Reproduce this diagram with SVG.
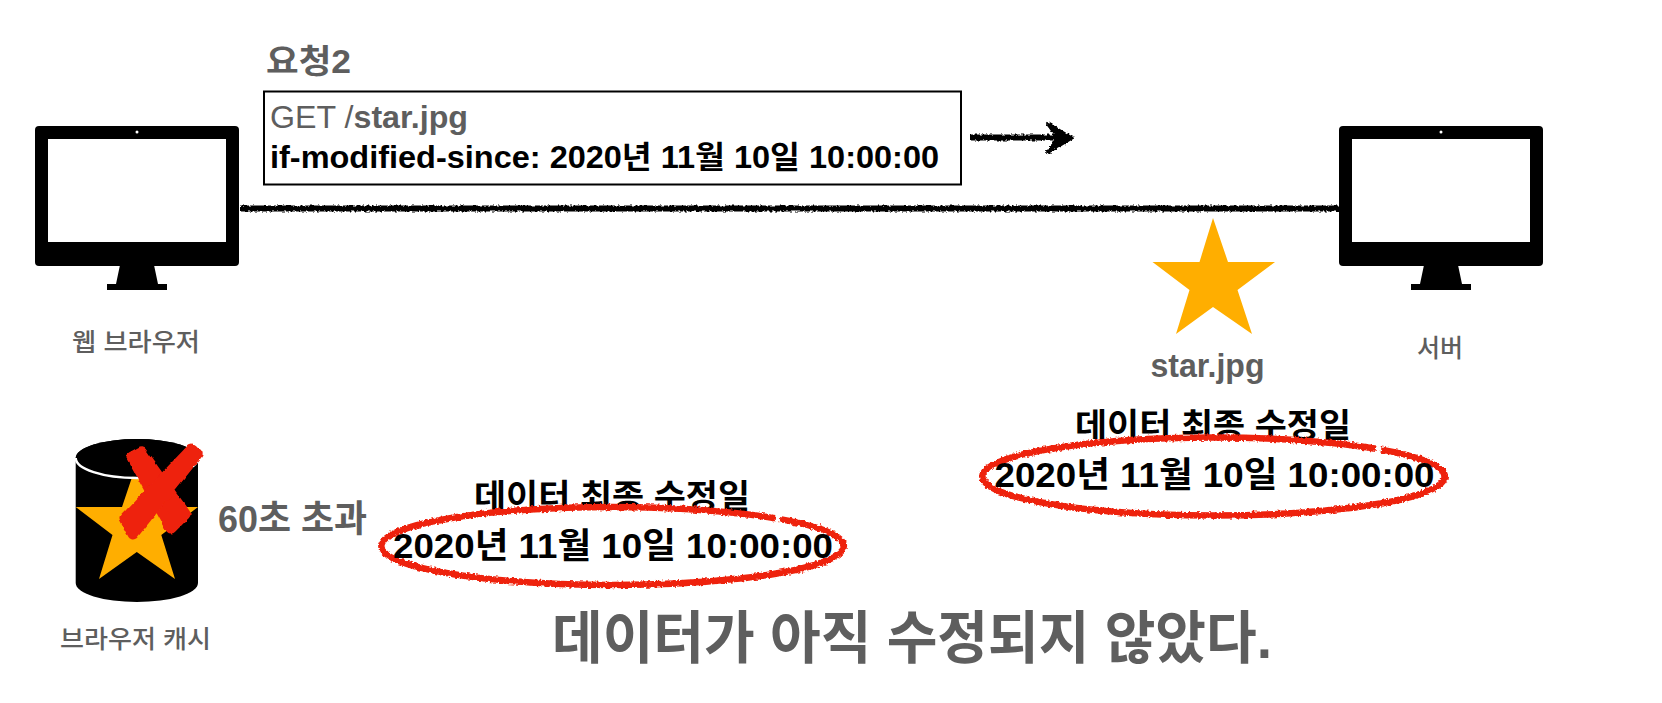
<svg xmlns="http://www.w3.org/2000/svg" width="1662" height="703" viewBox="0 0 1662 703">
<style>
text{font-family:"Liberation Sans","Noto Sans CJK KR",sans-serif;}
.g{fill:#5e5e5e}.k{fill:#000}.b{font-weight:700}.m{font-weight:500}
.sk{fill:none;stroke:#000;stroke-width:6;filter:url(#rough)}
.ringfill{fill:#fff}
.ring{fill:none;stroke:#ee220c;stroke-width:6.500;filter:url(#rough)}
.x{fill:#ee220c;stroke:#ee220c;stroke-width:11;stroke-linejoin:round;filter:url(#roughx)}
.star{fill:#ffae00}
</style>
<defs>
<filter id="rough" x="0" y="0" width="1662" height="703" filterUnits="userSpaceOnUse"><feTurbulence type="fractalNoise" baseFrequency="0.4" numOctaves="2" seed="3"/><feDisplacementMap in="SourceGraphic" scale="4" xChannelSelector="R" yChannelSelector="G"/></filter>
<filter id="roughx" x="0" y="0" width="1662" height="703" filterUnits="userSpaceOnUse"><feTurbulence type="fractalNoise" baseFrequency="0.12" numOctaves="2" seed="5"/><feDisplacementMap in="SourceGraphic" scale="4" xChannelSelector="R" yChannelSelector="G"/></filter>
<g id="monitor">
<rect x="0" y="0" width="204" height="140" rx="4" fill="#000"/>
<rect x="13" y="13" width="178" height="103" fill="#fff"/>
<circle cx="102" cy="6" r="1.500" fill="#fff"/>
<path d="M85 139H119L123 158H132V164H72V158H81Z" fill="#000"/>
</g>
</defs>
<rect width="1662" height="703" fill="#fff"/>

<g id="connectors">
<path class="sk" d="M240 208.500H1341"/>
<path class="sk" d="M970 137.500H1058"/>
<path d="M1047 123L1072 138L1047 153L1058 138Z" fill="#000" stroke="#000" stroke-width="3" filter="url(#rough)"/>
</g>

<g id="request">
<text class="g b" x="266" y="73" font-size="33" textLength="85" lengthAdjust="spacingAndGlyphs">요청2</text>
<rect x="264" y="91.500" width="697" height="93" fill="#fff" stroke="#000" stroke-width="2"/>
<text class="g" x="270" y="128" font-size="32" textLength="198" lengthAdjust="spacingAndGlyphs">GET /<tspan class="b">star.jpg</tspan></text>
<text class="k b" x="270" y="168" font-size="31" textLength="669" lengthAdjust="spacingAndGlyphs">if-modified-since: 2020년 11월 10일 10:00:00</text>
</g>

<g id="browser">
<use href="#monitor" x="35" y="126"/>
<text class="g m" x="72" y="351" font-size="25" textLength="128" lengthAdjust="spacingAndGlyphs">웹 브라우저</text>
</g>

<g id="server">
<use href="#monitor" x="1339" y="126"/>
<text class="g m" x="1417" y="357" font-size="25" textLength="46" lengthAdjust="spacingAndGlyphs">서버</text>
</g>

<g id="star-file">
<path class="star" d="M1213 218L1228 262H1275L1237.500 290L1252 334L1213 307L1176 334L1189.500 290L1152.500 262H1199.500Z"/>
<text class="g b" x="1150.500" y="377" font-size="33" textLength="114" lengthAdjust="spacingAndGlyphs">star.jpg</text>
</g>

<g id="server-date">
<text class="k b" x="1075" y="437" font-size="33" textLength="276" lengthAdjust="spacingAndGlyphs">데이터 최종 수정일</text>
<ellipse class="ringfill" cx="1213.500" cy="476.500" rx="231" ry="39"/>
<path class="ring" d="M1381 449.600A231 39 0 0 1 1213.500 515.500A231 39 0 1 1 1376 448.800"/>
<text class="k b" x="994.500" y="487" font-size="35" textLength="440" lengthAdjust="spacingAndGlyphs">2020년 11월 10일 10:00:00</text>
</g>

<g id="cache">
<path d="M75.700 458A61 19 0 0 1 198 458V583A61 19 0 0 1 75.700 583Z" fill="#000"/>
<path class="star" d="M136.800 463L151.800 507H198L161.300 535L175 579L136.800 552L99 579L112.500 535L75.700 507H122Z"/>
<path d="M75.700 458A61 19 0 0 1 198 458A61 19 0 0 1 75.700 458Z" fill="#000"/>
<path d="M75.700 458A61 20 0 0 0 198 458" fill="none" stroke="#fff" stroke-width="2.500"/>
<path class="x" d="M132 457L141 452L185 514L171 528Z"/>
<path class="x" d="M197 454L192 449L125 519L133 534Z"/>
<text class="g m" x="60" y="648" font-size="25" textLength="151" lengthAdjust="spacingAndGlyphs">브라우저 캐시</text>
</g>

<g id="cache-note"><text class="g b" x="218" y="532" font-size="37" textLength="149" lengthAdjust="spacingAndGlyphs">60초 초과</text></g>

<g id="cache-date">
<text class="k b" x="474" y="508" font-size="33" textLength="276" lengthAdjust="spacingAndGlyphs">데이터 최종 수정일</text>
<ellipse class="ringfill" cx="612.500" cy="546" rx="231" ry="39"/>
<path class="ring" d="M780 519.100A231 39 0 0 1 612.500 585A231 39 0 1 1 775 518.300"/>
<text class="k b" x="393" y="558" font-size="35" textLength="440" lengthAdjust="spacingAndGlyphs">2020년 11월 10일 10:00:00</text>
</g>

<g id="conclusion"><text class="g b" x="552" y="658" font-size="57" textLength="720" lengthAdjust="spacingAndGlyphs">데이터가 아직 수정되지 않았다.</text></g>
</svg>
